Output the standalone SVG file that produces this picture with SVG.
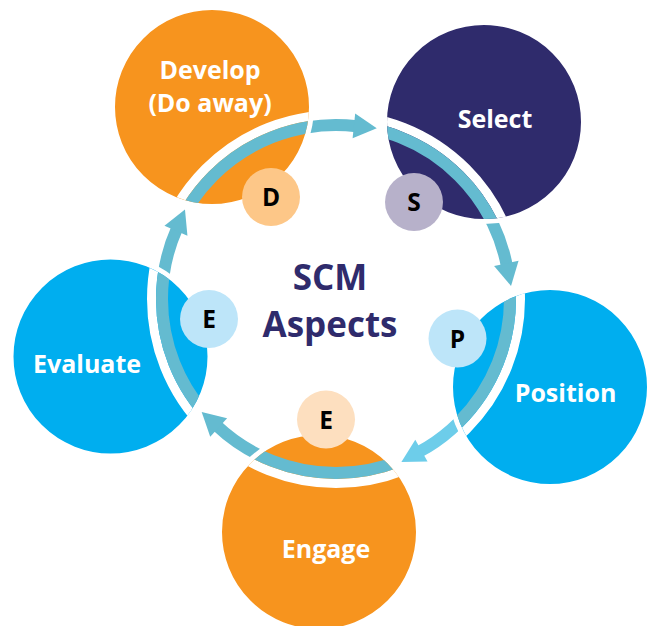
<svg xmlns="http://www.w3.org/2000/svg" width="652" height="626" viewBox="0 0 652 626">
<style>
.big{stroke:#fff;stroke-width:5}
.lbl{font-family:"Open Sans","Noto Sans",sans-serif;font-weight:700;font-size:25px;fill:#fff;text-anchor:middle}
.let{font-family:"Open Sans","Noto Sans",sans-serif;font-weight:700;font-size:24.5px;fill:#000;text-anchor:middle}
.title{font-family:"Open Sans","Noto Sans",sans-serif;font-weight:700;font-size:35px;fill:#2F2B6C;text-anchor:middle}
.shaft{fill:none;stroke:#64BBD0;stroke-width:12}
.head{fill:#64BBD0}
.lt .shaft{stroke:#6DCDEA}
.lt .head{fill:#6DCDEA}
.ring{fill:none;stroke:#64BBD0;stroke-width:12}
.gap{fill:none;stroke:#fff;stroke-width:9}
</style>
<defs>
<clipPath id="c1"><circle cx="212" cy="107" r="97"/></clipPath>
<clipPath id="c2"><circle cx="484" cy="122" r="97"/></clipPath>
<clipPath id="c3"><circle cx="550" cy="387" r="97"/></clipPath>
<clipPath id="c4"><circle cx="319" cy="532" r="97"/></clipPath>
<clipPath id="c5"><circle cx="110.5" cy="356.5" r="97"/></clipPath>
</defs>
<rect width="652" height="626" fill="#fff"/>
<g id="connectors">
<g id="arrow-develop-select">
<path class="shaft" d="M210.84 178.12 A174 174 0 0 1 356.90 126.25"/>
<polygon class="head" points="352.60,138.36 376.77,128.28 355.17,113.49"/>
</g>
<g id="arrow-select-position">
<path class="shaft" d="M415.00 143.97 A174 174 0 0 1 506.92 266.39"/>
<polygon class="head" points="494.09,265.97 511.03,285.93 518.56,260.86"/>
</g>
<g id="arrow-position-engage" class="lt">
<path class="shaft" d="M507.62 327.71 A174 174 0 0 1 418.75 452.05"/>
<polygon class="head" points="415.28,439.70 401.38,461.88 427.55,461.48"/>
</g>
<g id="arrow-engage-evaluate">
<path class="shaft" d="M360.22 471.31 A174 174 0 0 1 216.44 425.43"/>
<polygon class="head" points="227.10,418.27 201.68,411.99 210.24,436.73"/>
</g>
<g id="arrow-evaluate-develop">
<path class="shaft" d="M180.01 376.10 A174 174 0 0 1 177.17 227.96"/>
<polygon class="head" points="187.45,235.64 184.97,209.58 164.46,225.84"/>
</g>
</g>
<g id="develop">
<circle class="big" cx="212" cy="107" r="99.5" fill="#F7941E"/>
<g clip-path="url(#c1)"><circle class="gap" cx="336" cy="299" r="184.5"/><circle class="ring" cx="336" cy="299" r="174"/></g>
<text class="lbl" x="210" y="79">Develop</text>
<text class="lbl" x="210" y="112">(Do away)</text>
<circle cx="271" cy="197" r="29" fill="#FDC788"/>
<text class="let" x="271" y="206">D</text>
</g>
<g id="select">
<circle class="big" cx="484" cy="122" r="99.5" fill="#2F2B6C"/>
<g clip-path="url(#c2)"><circle class="gap" cx="336" cy="299" r="184.5"/><circle class="ring" cx="336" cy="299" r="174"/></g>
<text class="lbl" x="495" y="128">Select</text>
<circle cx="414" cy="202" r="29" fill="#B7B1CA"/>
<text class="let" x="414" y="211">S</text>
</g>
<g id="position">
<circle class="big" cx="550" cy="387" r="99.5" fill="#00AEEF"/>
<g clip-path="url(#c3)"><circle class="gap" cx="336" cy="299" r="184.5"/><circle class="ring" cx="336" cy="299" r="174"/></g>
<text class="lbl" x="565.5" y="402">Position</text>
<circle cx="457.5" cy="338.5" r="29" fill="#BDE5F9"/>
<text class="let" x="457.5" y="347.5">P</text>
</g>
<g id="engage">
<circle class="big" cx="319" cy="532" r="99.5" fill="#F7941E"/>
<g clip-path="url(#c4)"><circle class="gap" cx="336" cy="299" r="184.5"/><circle class="ring" cx="336" cy="299" r="174"/></g>
<text class="lbl" x="326" y="558">Engage</text>
<circle cx="326" cy="419.5" r="29" fill="#FDDFBF"/>
<text class="let" x="326" y="428.5">E</text>
</g>
<g id="evaluate">
<circle class="big" cx="110.5" cy="356.5" r="99.5" fill="#00AEEF"/>
<g clip-path="url(#c5)"><circle class="gap" cx="336" cy="299" r="184.5"/><circle class="ring" cx="336" cy="299" r="174"/></g>
<text class="lbl" x="87" y="373">Evaluate</text>
<circle cx="209" cy="319" r="29" fill="#BDE5F9"/>
<text class="let" x="209" y="328">E</text>
</g>
<g id="center">
<text class="title" x="330" y="290">SCM</text>
<text class="title" x="330" y="337">Aspects</text>
</g>
</svg>
